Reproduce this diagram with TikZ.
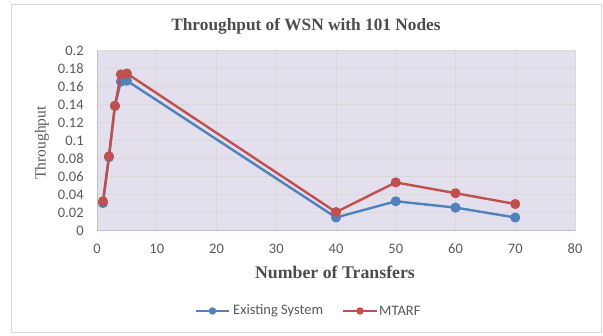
\documentclass[tikz,border=0pt]{standalone}
\usepackage{fontspec}
\setmainfont{Liberation Serif}
\newfontfamily\calibri{Carlito}
\usetikzlibrary{positioning}

\definecolor{plotbg}{HTML}{E4DFEC}
\definecolor{gridgray}{HTML}{D9D9D9}
\definecolor{axisgray}{HTML}{BFBFBF}
\definecolor{labelgray}{HTML}{595959}
\definecolor{existblue}{HTML}{4F81BD}
\definecolor{mtarfred}{HTML}{C0504D}

\tikzset{
  tick/.style={font=\calibri\fontsize{14.5}{14.5}\selectfont, text=labelgray, inner sep=0pt},
  legendtxt/.style={font=\calibri\fontsize{14.5}{14.5}\selectfont, text=labelgray, inner sep=0pt},
  heading/.style={font=\bfseries\fontsize{17.3}{17.3}\selectfont, text=labelgray!85!black},
  series/.style={line width=2.4pt, line join=round},
  dot/.style={circle, fill, inner sep=0pt, minimum size=7.5pt}
}

\begin{document}
\begin{tikzpicture}[x=1pt, y=1pt]
\useasboundingbox (0,0) rectangle (603,336);
\draw[gridgray, line width=1pt] (11,3) rectangle (601,331);

% plot area
\begin{scope}[shift={(97,105)}, x=5.975pt, y=900pt]
\fill[plotbg] (0,0) rectangle (80,0.2);
\foreach \x in {10,20,...,80} {
\draw[gridgray, line width=1pt] (\x,0) -- (\x,0.2);
}
\foreach \k in {1,...,10} {
\draw[gridgray, line width=1pt] (0,\k*0.02) -- (80,\k*0.02);
}
\draw[axisgray, line width=1pt] (0,0.2) -- (0,0) -- (80,0);
\foreach \x in {0,10,...,80} {
\node[tick] (xt\x) at (\x,-0.02) {\x};
}
\foreach \t in {0,0.02,0.04,0.06,0.08,0.1,0.12,0.14,0.16,0.18,0.2} {
\node[tick, anchor=east] at (-2.2,\t) {\t};
}
\draw[series, existblue] plot[mark=*, mark size=3.8pt] coordinates {
(1,0.031) (2,0.082) (3,0.139) (4,0.166) (5,0.167) (40,0.015) (50,0.033) (60,0.026) (70,0.015)};
\draw[series, mtarfred] plot[mark=*, mark size=3.8pt] coordinates {
(1,0.033) (2,0.083) (3,0.139) (4,0.174) (5,0.175) (40,0.021) (50,0.054) (60,0.042) (70,0.030)};
\end{scope}

% titles
\node[heading] (title) at (306,310) {Throughput of WSN with 101 Nodes};
\node[heading, font=\bfseries\fontsize{17.8}{17.8}\selectfont] (xlabel) at (335,64) {Number of Transfers};
\node[font=\fontsize{15.5}{15.5}\selectfont, text=labelgray, rotate=90] (ylabel) at (42,193) {Throughput};

% legend
\coordinate (exA) at (196,25);
\coordinate (exB) at (229,25);
\draw[series, existblue] (exA) -- node[dot] (exdot) {} (exB);
\node[legendtxt, anchor=west, right=4pt of exB] (extxt) {Existing System};
\coordinate (mtA) at (343,25);
\coordinate (mtB) at (377,25);
\draw[series, mtarfred] (mtA) -- node[dot] (mtdot) {} (mtB);
\node[legendtxt, anchor=west, right=2pt of mtB] (mttxt) {MTARF};
\end{tikzpicture}
\end{document}
